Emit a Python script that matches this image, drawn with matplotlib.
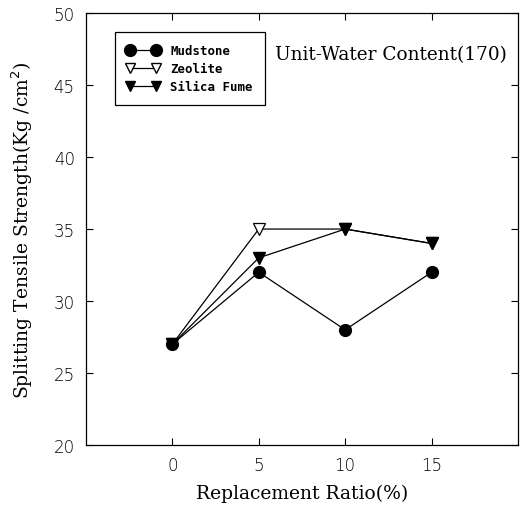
import matplotlib
matplotlib.use("Agg")
import matplotlib.pyplot as plt
from matplotlib.lines import Line2D

# Replacement ratio (%) and splitting tensile strength (Kg/cm^2)
ratio = [0, 5, 10, 15]
mudstone = [27, 32, 28, 32]
zeolite = [27, 35, 35, 34]
silica_fume = [27, 33, 35, 34]
series_names = ["Mudstone", "Zeolite", "Silica Fume"]
x_ticks = [0, 5, 10, 15]
y_ticks = [20, 25, 30, 35, 40, 45, 50]

fig = plt.figure(figsize=(5.27, 5.06), dpi=100)
ax = fig.add_axes([0.163, 0.1186, 0.820, 0.8535])

lw = 0.9
ax.plot(ratio, mudstone, color="black", lw=lw, marker="o", ms=8.5,
        mfc="black", mec="black", zorder=3)
ax.plot(ratio, zeolite, color="black", lw=lw, marker="v", ms=8.5,
        mfc="white", mec="black", mew=0.9, zorder=2)
ax.plot(ratio, silica_fume, color="black", lw=lw, marker="v", ms=8.5,
        mfc="black", mec="black", zorder=4)

ax.set_xlim(-5, 20)
ax.set_ylim(20, 50)
ax.set_xticks(x_ticks)
ax.set_yticks(y_ticks)
ax.tick_params(direction="in", top=True, right=True, length=5, width=0.8,
               labelsize=12, pad=8)
for lab in ax.get_xticklabels() + ax.get_yticklabels():
    lab.set_fontfamily("DejaVu Sans")
    lab.set_fontweight("light")
for sp in ax.spines.values():
    sp.set_linewidth(0.9)

serif = "DejaVu Serif"
ax.set_xlabel("Replacement Ratio(%)", fontsize=13.5, family=serif, labelpad=7)
ax.set_ylabel("Splitting Tensile Strength(Kg /cm$^2$)", fontsize=13.5,
              family=serif, labelpad=13)
ax.text(0.438, 0.905, "Unit-Water Content(170)", transform=ax.transAxes,
        fontsize=13.3, family=serif, va="center", ha="left")

handles = [
    Line2D([], [], color="black", lw=lw, marker="o", ms=8.5, mfc="black", mec="black"),
    Line2D([], [], color="black", lw=lw, marker="v", ms=7, mfc="white", mec="black"),
    Line2D([], [], color="black", lw=lw, marker="v", ms=7, mfc="black", mec="black"),
]
leg = ax.legend(handles, series_names, loc="upper left",
                bbox_to_anchor=(0.067, 0.956), borderaxespad=0, numpoints=2,
                handlelength=2.7, handletextpad=0.85, labelspacing=0.42,
                borderpad=0.95, fancybox=False, edgecolor="black", framealpha=1,
                prop={"family": "DejaVu Sans Mono", "weight": "bold", "size": 8.9})
leg.get_frame().set_linewidth(0.9)

fig.savefig("out.png", dpi=100)
